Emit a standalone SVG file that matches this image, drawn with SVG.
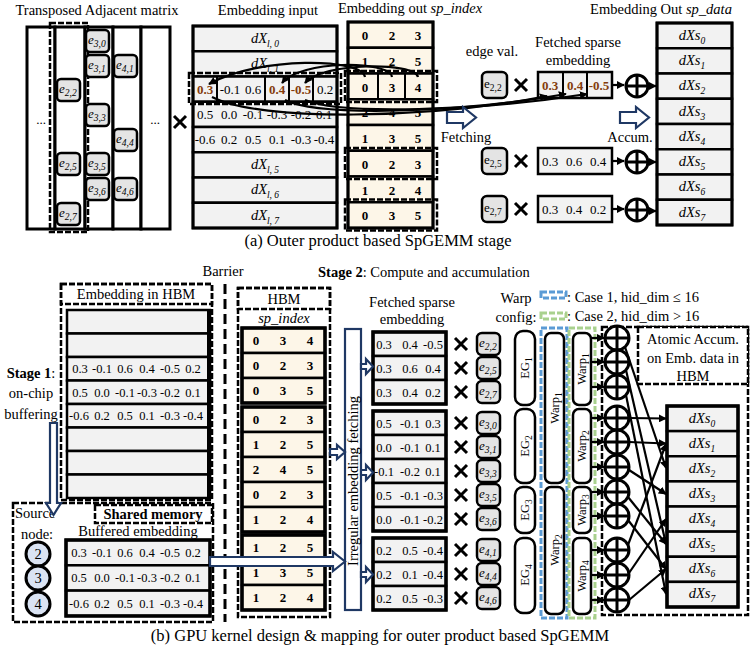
<svg xmlns="http://www.w3.org/2000/svg" width="751" height="652" viewBox="0 0 751 652">
<defs>
<marker id="ah" viewBox="0 0 10 10" refX="9" refY="5" markerWidth="3.6" markerHeight="3.6" orient="auto"><path d="M0,0 L10,5 L0,10 z" fill="#000"/></marker>
<g id="oplus"><circle r="11" fill="#fff" stroke="#000" stroke-width="3"/><path d="M-11,0 H11 M0,-11 V11" stroke="#000" stroke-width="3"/></g>
<g id="oplus2"><circle r="12" fill="#fff" stroke="#000" stroke-width="3"/><path d="M-12,0 H12 M0,-12 V12" stroke="#000" stroke-width="3"/></g>
</defs>
<style>
text{font-family:"Liberation Serif","Times New Roman",serif;fill:#000}
.t{font-size:14.5px}
.n{font-size:13px}
.ns{font-size:12.5px}
.cap{font-size:16.5px}
.b{font-family:"Liberation Sans",Arial,sans-serif;font-weight:bold;font-size:13px}
.br{fill:#843c0c;font-weight:bold}
.i{font-style:italic}
.sub{font-size:9.5px}
.cell{fill:#f2f2f2;stroke:#000;stroke-width:2.5}
.cream{fill:#fdf6e8;stroke:#000;stroke-width:2.5}
.eb{fill:#e4e4e4;stroke:#000;stroke-width:2.5}
.col{fill:#fff;stroke:#000;stroke-width:3}
.dash{fill:none;stroke:#000;stroke-width:2.5;stroke-dasharray:6,2}
.dashw{fill:#fff;stroke:#000;stroke-width:2.5;stroke-dasharray:6,2}
.navy{fill:#fff;stroke:#1f3864;stroke-width:2.2}
.ln{fill:none;stroke:#000;stroke-width:2.2}
.rr{fill:#fff;stroke:#000;stroke-width:2.5}
.x{stroke:#000;stroke-width:3;stroke-linecap:butt}
</style>

<!-- ================= (a) ================= -->
<g id="adjmatrix">
<text class="t" x="97" y="15" text-anchor="middle">Transposed Adjacent matrix</text>
<rect class="col" x="27" y="27" width="28" height="202"/>
<rect class="col" x="55" y="27" width="30" height="202"/>
<rect class="col" x="85" y="27" width="28" height="202"/>
<rect class="col" x="113" y="27" width="28" height="202"/>
<rect class="col" x="141" y="27" width="29" height="202"/>
<rect class="dash" x="50" y="23" width="38" height="209" stroke-dasharray="7,2"/>
<text class="n" x="41" y="124" text-anchor="middle">...</text>
<text class="n" x="155" y="124" text-anchor="middle">...</text>
<g class="es">
<rect class="eb" x="57" y="79" width="23" height="22" rx="4"/><text x="59" y="93" class="n i">e<tspan class="sub" dy="3">2,2</tspan></text>
<rect class="eb" x="57" y="153" width="23" height="22" rx="4"/><text x="59" y="167" class="n i">e<tspan class="sub" dy="3">2,5</tspan></text>
<rect class="eb" x="57" y="203" width="23" height="22" rx="4"/><text x="59" y="217" class="n i">e<tspan class="sub" dy="3">2,7</tspan></text>
<rect class="eb" x="86" y="30" width="23" height="22" rx="4"/><text x="88" y="44" class="n i">e<tspan class="sub" dy="3">3,0</tspan></text>
<rect class="eb" x="86" y="55" width="23" height="22" rx="4"/><text x="88" y="69" class="n i">e<tspan class="sub" dy="3">3,1</tspan></text>
<rect class="eb" x="86" y="104" width="23" height="22" rx="4"/><text x="88" y="118" class="n i">e<tspan class="sub" dy="3">3,3</tspan></text>
<rect class="eb" x="86" y="153" width="23" height="22" rx="4"/><text x="88" y="167" class="n i">e<tspan class="sub" dy="3">3,5</tspan></text>
<rect class="eb" x="86" y="178" width="23" height="22" rx="4"/><text x="88" y="192" class="n i">e<tspan class="sub" dy="3">3,6</tspan></text>
<rect class="eb" x="114" y="55" width="23" height="22" rx="4"/><text x="116" y="69" class="n i">e<tspan class="sub" dy="3">4,1</tspan></text>
<rect class="eb" x="114" y="129" width="23" height="22" rx="4"/><text x="116" y="143" class="n i">e<tspan class="sub" dy="3">4,4</tspan></text>
<rect class="eb" x="114" y="178" width="23" height="22" rx="4"/><text x="116" y="192" class="n i">e<tspan class="sub" dy="3">4,6</tspan></text>
</g>
<path class="x" d="M174,116 L186,128 M186,116 L174,128"/>
</g>

<g id="embinput">
<text class="t" x="268" y="15" text-anchor="middle">Embedding input</text>
<rect class="cell" x="193" y="26" width="144" height="25.25"/>
<rect class="cell" x="193" y="51.25" width="144" height="25.25"/>
<rect class="cell" x="193" y="76.5" width="144" height="25.25"/>
<rect class="cell" x="193" y="101.75" width="144" height="25.25"/>
<rect class="cell" x="193" y="127" width="144" height="25.25"/>
<rect class="cell" x="193" y="152.25" width="144" height="25.25"/>
<rect class="cell" x="193" y="177.5" width="144" height="25.25"/>
<rect class="cell" x="193" y="202.75" width="144" height="25.25"/>
<rect x="193" y="26" width="144" height="202" fill="none" stroke="#000" stroke-width="3"/>
<path d="M217,76.5 V101.75 M265,76.5 V101.75 M289,76.5 V101.75 M313,76.5 V101.75" stroke="#000" stroke-width="2"/>
<rect class="dash" x="189" y="73" width="152" height="31"/>
<text class="t i" x="265" y="43" text-anchor="middle">dX<tspan class="sub" dy="4">l, 0</tspan></text>
<text class="t i" x="265" y="68" text-anchor="middle">dX<tspan class="sub" dy="4">l, 1</tspan></text>
<text class="t i" x="265" y="169" text-anchor="middle">dX<tspan class="sub" dy="4">l, 5</tspan></text>
<text class="t i" x="265" y="194" text-anchor="middle">dX<tspan class="sub" dy="4">l, 6</tspan></text>
<text class="t i" x="265" y="220" text-anchor="middle">dX<tspan class="sub" dy="4">l, 7</tspan></text>
<g class="n" text-anchor="middle">
<text x="205" y="94" class="br">0.3</text><text x="230" y="94">-0.1</text><text x="253" y="94">0.6</text><text x="277" y="94" class="br">0.4</text><text x="301" y="94" class="br">-0.5</text><text x="325" y="94">0.2</text>
<text x="205" y="119">0.5</text><text x="229" y="119">0.0</text><text x="253" y="119">-0.1</text><text x="277" y="119">-0.3</text><text x="301" y="119">-0.2</text><text x="324" y="119">0.1</text>
<text x="205" y="144">-0.6</text><text x="229" y="144">0.2</text><text x="253" y="144">0.5</text><text x="277" y="144">0.1</text><text x="301" y="144">-0.3</text><text x="324" y="144">-0.4</text>
</g>
</g>

<g id="spindex_top">
<text class="t" x="410" y="13" text-anchor="middle">Embedding out <tspan class="i">sp_index</tspan></text>
<rect class="cream" x="348" y="22" width="85" height="25.75"/>
<rect class="cream" x="348" y="47.75" width="85" height="25.75"/>
<rect class="cream" x="348" y="73.5" width="85" height="25.75"/>
<rect class="cream" x="348" y="99.25" width="85" height="25.75"/>
<rect class="cream" x="348" y="125" width="85" height="25.75"/>
<rect class="cream" x="348" y="150.75" width="85" height="25.75"/>
<rect class="cream" x="348" y="176.5" width="85" height="25.75"/>
<rect class="cream" x="348" y="202.25" width="85" height="25.75"/>
<rect x="348" y="22" width="85" height="206" fill="none" stroke="#000" stroke-width="3"/>
<path d="M378,73.5 V99.25 M405,73.5 V99.25" stroke="#000" stroke-width="2"/>
<rect class="dash" x="345" y="71" width="92" height="31"/>
<rect class="dash" x="345" y="148" width="92" height="31"/>
<rect class="dash" x="345" y="199.5" width="92" height="31"/>
<g class="b" text-anchor="middle">
<text x="365" y="40">0</text><text x="392" y="40">2</text><text x="418" y="40">3</text>
<text x="365" y="65.5">1</text><text x="392" y="65.5">2</text><text x="418" y="65.5">5</text>
<text x="365" y="91.5" fill="#843c0c">0</text><text x="392" y="91.5" fill="#843c0c">3</text><text x="418" y="91.5" fill="#843c0c">4</text>
<text x="365" y="117">2</text><text x="392" y="117">4</text><text x="418" y="117">5</text>
<text x="365" y="143">1</text><text x="392" y="143">3</text><text x="418" y="143">5</text>
<text x="365" y="168.5">0</text><text x="392" y="168.5">2</text><text x="418" y="168.5">3</text>
<text x="365" y="194.5">1</text><text x="392" y="194.5">2</text><text x="418" y="194.5">4</text>
<text x="365" y="220">0</text><text x="392" y="220">3</text><text x="418" y="220">5</text>
</g>
</g>

<g id="edges_a">
<text class="t" x="492" y="56" text-anchor="middle">edge val.</text>
<text class="t" x="578" y="47" text-anchor="middle">Fetched sparse</text>
<text class="t" x="578" y="65" text-anchor="middle">embedding</text>
<rect class="eb" x="482" y="72" width="25" height="26" rx="5"/><text x="484" y="88" class="n">e<tspan class="sub" dy="3">2,2</tspan></text>
<rect class="eb" x="482" y="148" width="25" height="26" rx="5"/><text x="484" y="164" class="n">e<tspan class="sub" dy="3">2,5</tspan></text>
<rect class="eb" x="482" y="196" width="25" height="26" rx="5"/><text x="484" y="212" class="n">e<tspan class="sub" dy="3">2,7</tspan></text>
<path class="x" d="M515,79 L527,91 M527,79 L515,91 M515,155 L527,167 M527,155 L515,167 M515,203 L527,215 M527,203 L515,215"/>
<rect class="cell" x="538" y="72" width="74" height="26"/>
<path d="M563,72 V98 M587,72 V98" stroke="#000" stroke-width="2"/>
<text x="550" y="90" class="n br" text-anchor="middle">0.3</text><text x="575" y="90" class="n br" text-anchor="middle">0.4</text><text x="599" y="90" class="n br" text-anchor="middle">-0.5</text>
<rect class="cell" x="538" y="148" width="74" height="26"/>
<g class="n" text-anchor="middle"><text x="550" y="166">0.3</text><text x="574" y="166">0.6</text><text x="598" y="166">0.4</text></g>
<rect class="cell" x="538" y="196" width="74" height="26"/>
<g class="n" text-anchor="middle"><text x="550" y="214">0.3</text><text x="574" y="214">0.4</text><text x="598" y="214">0.2</text></g>
</g>

<g id="spdata">
<text class="t" x="661" y="14" text-anchor="middle">Embedding Out <tspan class="i">sp_data</tspan></text>
<rect class="cell" x="657" y="23" width="75" height="25.25"/>
<rect class="cell" x="657" y="48.25" width="75" height="25.25"/>
<rect class="cell" x="657" y="73.5" width="75" height="25.25"/>
<rect class="cell" x="657" y="98.75" width="75" height="25.25"/>
<rect class="cell" x="657" y="124" width="75" height="25.25"/>
<rect class="cell" x="657" y="149.25" width="75" height="25.25"/>
<rect class="cell" x="657" y="174.5" width="75" height="25.25"/>
<rect class="cell" x="657" y="199.75" width="75" height="25.25"/>
<rect x="657" y="23" width="75" height="202" fill="none" stroke="#000" stroke-width="3"/>
<g class="t i" text-anchor="middle">
<text x="692" y="40">dXs<tspan class="sub" dy="4">0</tspan></text>
<text x="692" y="65">dXs<tspan class="sub" dy="4">1</tspan></text>
<text x="692" y="90">dXs<tspan class="sub" dy="4">2</tspan></text>
<text x="692" y="116">dXs<tspan class="sub" dy="4">3</tspan></text>
<text x="692" y="141">dXs<tspan class="sub" dy="4">4</tspan></text>
<text x="692" y="166">dXs<tspan class="sub" dy="4">5</tspan></text>
<text x="692" y="191">dXs<tspan class="sub" dy="4">6</tspan></text>
<text x="692" y="217">dXs<tspan class="sub" dy="4">7</tspan></text>
</g>
</g>

<g id="connectors_a">
<path class="ln" stroke-width="2.5" d="M365,77 C362,58 260,56 209,84" marker-end="url(#ah)"/>
<path class="ln" stroke-width="2.5" d="M392,77 C389,60 300,60 282,83" marker-end="url(#ah)"/>
<path class="ln" stroke-width="2.5" d="M418,77 C415,62 322,62 305,83" marker-end="url(#ah)"/>
<path class="ln" stroke-width="2.5" d="M212,97 C260,122 430,119 547,96" marker-end="url(#ah)"/>
<path class="ln" stroke-width="2.5" d="M285,100 C320,117 460,113 566,94" marker-end="url(#ah)"/>
<path class="ln" stroke-width="2.5" d="M305,100 C340,115 480,111 587,94" marker-end="url(#ah)"/>
<path class="ln" d="M612,85 H624" marker-end="url(#ah)"/>
<path class="ln" d="M648,86 H656" marker-end="url(#ah)"/>
<path class="ln" d="M612,161 H624" marker-end="url(#ah)"/>
<path class="ln" d="M648,162 H656" marker-end="url(#ah)"/>
<path class="ln" d="M612,209 H624" marker-end="url(#ah)"/>
<path class="ln" d="M648,211 H656" marker-end="url(#ah)"/>
<use href="#oplus" x="637" y="86"/>
<use href="#oplus" x="637" y="162"/>
<use href="#oplus" x="637" y="210"/>
<path class="navy" d="M447,112 H463 V107 L476,117.5 L463,128 V123 H447 Z"/>
<text class="t" x="466" y="142" text-anchor="middle">Fetching</text>
<path class="navy" d="M620,112 H636 V107 L649,117.5 L636,128 V123 H620 Z"/>
<text class="t" x="630" y="142" text-anchor="middle">Accum.</text>
</g>

<text class="cap" x="378" y="246" text-anchor="middle">(a) Outer product based SpGEMM stage</text>

<!-- ================= (b) ================= -->
<g id="barrier">
<text class="t" x="223" y="276" text-anchor="middle">Barrier</text>
<path d="M225,284 V622" stroke="#000" stroke-width="3" stroke-dasharray="10,5"/>
<text class="t" x="318" y="277"><tspan font-weight="bold">Stage 2</tspan>: Compute and accumulation</text>
</g>

<g id="stage1">
<text class="t" x="31" y="378" text-anchor="middle"><tspan font-weight="bold">Stage 1</tspan>:</text>
<text class="t" x="31" y="398" text-anchor="middle">on-chip</text>
<text class="t" x="31" y="419" text-anchor="middle">buffering</text>
</g>

<g id="hbm_emb">
<rect class="dash" x="61" y="284" width="151" height="216"/>
<rect class="dash" x="61" y="284" width="151" height="20"/>
<text class="t" x="136" y="299" text-anchor="middle">Embedding in HBM</text>
<rect class="cell" x="67" y="310" width="143" height="23.5"/>
<rect class="cell" x="67" y="333.5" width="143" height="23.5"/>
<rect class="cell" x="67" y="357" width="143" height="23.5"/>
<rect class="cell" x="67" y="380.5" width="143" height="23.5"/>
<rect class="cell" x="67" y="404" width="143" height="23.5"/>
<rect class="cell" x="67" y="427.5" width="143" height="23.5"/>
<rect class="cell" x="67" y="451" width="143" height="23.5"/>
<rect class="cell" x="67" y="474.5" width="143" height="23.5"/>
<path d="M209,310 V498" stroke="#000" stroke-width="4"/>
<g class="ns" text-anchor="middle">
<text x="80" y="373">0.3</text><text x="102" y="373">-0.1</text><text x="125" y="373">0.6</text><text x="147" y="373">0.4</text><text x="170" y="373">-0.5</text><text x="193" y="373">0.2</text>
<text x="80" y="397">0.5</text><text x="102" y="397">0.0</text><text x="125" y="397">-0.1</text><text x="147" y="397">-0.3</text><text x="170" y="397">-0.2</text><text x="193" y="397">0.1</text>
<text x="79" y="420">-0.6</text><text x="102" y="420">0.2</text><text x="125" y="420">0.5</text><text x="147" y="420">0.1</text><text x="170" y="420">-0.3</text><text x="193" y="420">-0.4</text>
</g>
</g>

<g id="shared">
<rect class="dash" x="13" y="503" width="200" height="119"/>
<rect class="dashw" x="95" y="505" width="117" height="18"/>
<text class="t" x="153" y="519" text-anchor="middle" font-weight="bold">Shared memory</text>
<text class="t" x="15" y="518">Source</text>
<text class="t" x="37" y="539" text-anchor="middle">node:</text>
<text class="t" x="138" y="536" text-anchor="middle">Buffered embedding</text>
<circle cx="38" cy="554" r="12" fill="#dae3f3" stroke="#000" stroke-width="3"/>
<circle cx="38" cy="578" r="12" fill="#dae3f3" stroke="#000" stroke-width="3"/>
<circle cx="38" cy="604" r="12" fill="#dae3f3" stroke="#000" stroke-width="3"/>
<text class="t" x="38" y="559" text-anchor="middle">2</text>
<text class="t" x="38" y="583" text-anchor="middle">3</text>
<text class="t" x="38" y="609" text-anchor="middle">4</text>
<rect class="cell" x="66" y="540" width="144" height="25.3"/>
<rect class="cell" x="66" y="565.3" width="144" height="25.3"/>
<rect class="cell" x="66" y="590.6" width="144" height="25.3"/>
<rect x="66" y="540" width="144" height="76" fill="none" stroke="#000" stroke-width="3.5"/>
<g class="ns" text-anchor="middle">
<text x="79" y="557">0.3</text><text x="102" y="557">-0.1</text><text x="125" y="557">0.6</text><text x="147" y="557">0.4</text><text x="170" y="557">-0.5</text><text x="193" y="557">0.2</text>
<text x="79" y="582">0.5</text><text x="102" y="582">0.0</text><text x="125" y="582">-0.1</text><text x="147" y="582">-0.3</text><text x="170" y="582">-0.2</text><text x="193" y="582">0.1</text>
<text x="79" y="608">-0.6</text><text x="102" y="608">0.2</text><text x="125" y="608">0.5</text><text x="147" y="608">0.1</text><text x="170" y="608">-0.3</text><text x="193" y="608">-0.4</text>
</g>
</g>

<g id="hbm_spindex">
<rect class="dash" x="238" y="288" width="92" height="329"/>
<rect class="dash" x="238" y="288" width="92" height="21"/>
<text class="t" x="284" y="304" text-anchor="middle">HBM</text>
<text class="t i" x="284" y="323" text-anchor="middle">sp_index</text>
<rect class="cream" x="242" y="328" width="83" height="25"/>
<rect class="cream" x="242" y="353" width="83" height="25"/>
<rect class="cream" x="242" y="378" width="83" height="25"/>
<rect x="242" y="328" width="83" height="75" fill="none" stroke="#000" stroke-width="3.5"/>
<rect class="cream" x="242" y="407" width="83" height="25"/>
<rect class="cream" x="242" y="432" width="83" height="25"/>
<rect class="cream" x="242" y="457" width="83" height="25"/>
<rect class="cream" x="242" y="482" width="83" height="25"/>
<rect class="cream" x="242" y="507" width="83" height="25"/>
<rect x="242" y="407" width="83" height="125" fill="none" stroke="#000" stroke-width="3.5"/>
<rect class="cream" x="242" y="535" width="83" height="25"/>
<rect class="cream" x="242" y="560" width="83" height="25"/>
<rect class="cream" x="242" y="585" width="83" height="25"/>
<rect x="242" y="535" width="83" height="75" fill="none" stroke="#000" stroke-width="3.5"/>
<g class="b" text-anchor="middle">
<text x="256" y="345">0</text><text x="283" y="345">3</text><text x="310" y="345">4</text>
<text x="256" y="370">0</text><text x="283" y="370">2</text><text x="310" y="370">3</text>
<text x="256" y="395">0</text><text x="283" y="395">3</text><text x="310" y="395">5</text>
<text x="256" y="424">0</text><text x="283" y="424">2</text><text x="310" y="424">3</text>
<text x="256" y="449">1</text><text x="283" y="449">2</text><text x="310" y="449">5</text>
<text x="256" y="474">2</text><text x="283" y="474">4</text><text x="310" y="474">5</text>
<text x="256" y="499">0</text><text x="283" y="499">2</text><text x="310" y="499">3</text>
<text x="256" y="524">1</text><text x="283" y="524">2</text><text x="310" y="524">4</text>
<text x="256" y="552">1</text><text x="283" y="552">2</text><text x="310" y="552">5</text>
<text x="256" y="577">1</text><text x="283" y="577">3</text><text x="310" y="577">5</text>
<text x="256" y="602">1</text><text x="283" y="602">2</text><text x="310" y="602">4</text>
</g>
</g>

<g id="fetchbar">
<rect class="navy" x="345" y="329" width="16" height="281" stroke-width="2.5"/>
<text class="t" transform="translate(358,481) rotate(-90)" text-anchor="middle">Irregular embedding fetching</text>
</g>

<g id="fetched_b">
<text class="t" x="412" y="307" text-anchor="middle">Fetched sparse</text>
<text class="t" x="412" y="324" text-anchor="middle">embedding</text>
<rect class="cell" x="373" y="332" width="73" height="24"/>
<rect class="cell" x="373" y="356" width="73" height="24"/>
<rect class="cell" x="373" y="380" width="73" height="24"/>
<rect x="373" y="332" width="73" height="72" fill="none" stroke="#000" stroke-width="3.5"/>
<rect class="cell" x="373" y="411" width="73" height="24"/>
<rect class="cell" x="373" y="435" width="73" height="24"/>
<rect class="cell" x="373" y="459" width="73" height="24"/>
<rect class="cell" x="373" y="483" width="73" height="24"/>
<rect class="cell" x="373" y="507" width="73" height="24"/>
<rect x="373" y="411" width="73" height="120" fill="none" stroke="#000" stroke-width="3.5"/>
<rect class="cell" x="373" y="538" width="73" height="24"/>
<rect class="cell" x="373" y="562" width="73" height="24"/>
<rect class="cell" x="373" y="586" width="73" height="24"/>
<rect x="373" y="538" width="73" height="72" fill="none" stroke="#000" stroke-width="3.5"/>
<g class="ns" text-anchor="middle">
<text x="384" y="349">0.3</text><text x="410" y="349">0.4</text><text x="433" y="349">-0.5</text>
<text x="384" y="373">0.3</text><text x="410" y="373">0.6</text><text x="433" y="373">0.4</text>
<text x="384" y="397">0.3</text><text x="410" y="397">0.4</text><text x="433" y="397">0.2</text>
<text x="384" y="428">0.5</text><text x="410" y="428">-0.1</text><text x="433" y="428">0.3</text>
<text x="384" y="452">0.0</text><text x="410" y="452">-0.1</text><text x="433" y="452">0.1</text>
<text x="384" y="476">-0.1</text><text x="410" y="476">-0.2</text><text x="433" y="476">0.1</text>
<text x="384" y="500">0.5</text><text x="410" y="500">-0.1</text><text x="433" y="500">-0.3</text>
<text x="384" y="524">0.0</text><text x="410" y="524">-0.1</text><text x="433" y="524">-0.2</text>
<text x="384" y="555">0.2</text><text x="410" y="555">0.5</text><text x="433" y="555">-0.4</text>
<text x="384" y="579">0.2</text><text x="410" y="579">0.1</text><text x="433" y="579">-0.4</text>
<text x="384" y="603">0.2</text><text x="410" y="603">0.5</text><text x="433" y="603">-0.3</text>
</g>
<path class="x" d="M455,338 L467,350 M467,338 L455,350 M455,362 L467,374 M467,362 L455,374 M455,386 L467,398 M467,386 L455,398 M455,417 L467,429 M467,417 L455,429 M455,441 L467,453 M467,441 L455,453 M455,465 L467,477 M467,465 L455,477 M455,489 L467,501 M467,489 L455,501 M455,513 L467,525 M467,513 L455,525 M455,544 L467,556 M467,544 L455,556 M455,568 L467,580 M467,568 L455,580 M455,592 L467,604 M467,592 L455,604"/>
</g>

<g id="edgevals_b">
<rect class="eb" x="477" y="333" width="23" height="22" rx="5"/><text x="479" y="347" class="n i">e<tspan class="sub" dy="3">2,2</tspan></text>
<rect class="eb" x="477" y="357" width="23" height="22" rx="5"/><text x="479" y="371" class="n i">e<tspan class="sub" dy="3">2,5</tspan></text>
<rect class="eb" x="477" y="381" width="23" height="22" rx="5"/><text x="479" y="395" class="n i">e<tspan class="sub" dy="3">2,7</tspan></text>
<rect class="eb" x="477" y="412" width="23" height="22" rx="5"/><text x="479" y="426" class="n i">e<tspan class="sub" dy="3">3,0</tspan></text>
<rect class="eb" x="477" y="436" width="23" height="22" rx="5"/><text x="479" y="450" class="n i">e<tspan class="sub" dy="3">3,1</tspan></text>
<rect class="eb" x="477" y="460" width="23" height="22" rx="5"/><text x="479" y="474" class="n i">e<tspan class="sub" dy="3">3,3</tspan></text>
<rect class="eb" x="477" y="484" width="23" height="22" rx="5"/><text x="479" y="498" class="n i">e<tspan class="sub" dy="3">3,5</tspan></text>
<rect class="eb" x="477" y="508" width="23" height="22" rx="5"/><text x="479" y="522" class="n i">e<tspan class="sub" dy="3">3,6</tspan></text>
<rect class="eb" x="477" y="539" width="23" height="22" rx="5"/><text x="479" y="553" class="n i">e<tspan class="sub" dy="3">4,1</tspan></text>
<rect class="eb" x="477" y="563" width="23" height="22" rx="5"/><text x="479" y="577" class="n i">e<tspan class="sub" dy="3">4,4</tspan></text>
<rect class="eb" x="477" y="587" width="23" height="22" rx="5"/><text x="479" y="601" class="n i">e<tspan class="sub" dy="3">4,6</tspan></text>
</g>

<g id="eg">
<rect class="rr" x="515" y="331" width="20" height="74" rx="8"/>
<rect class="rr" x="515" y="409" width="20" height="74" rx="8"/>
<rect class="rr" x="515" y="487" width="20" height="46" rx="8"/>
<rect class="rr" x="515" y="538" width="20" height="75" rx="8"/>
<text class="ns" transform="translate(529,368) rotate(-90)" text-anchor="middle">EG<tspan class="sub" dy="3">1</tspan></text>
<text class="ns" transform="translate(529,446) rotate(-90)" text-anchor="middle">EG<tspan class="sub" dy="3">2</tspan></text>
<text class="ns" transform="translate(529,510) rotate(-90)" text-anchor="middle">EG<tspan class="sub" dy="3">3</tspan></text>
<text class="ns" transform="translate(529,575) rotate(-90)" text-anchor="middle">EG<tspan class="sub" dy="3">4</tspan></text>
</g>

<g id="warps">
<text class="t" x="516" y="303" text-anchor="middle">Warp</text>
<text class="t" x="516" y="322" text-anchor="middle">config:</text>
<rect x="541" y="292" width="25" height="6" fill="none" stroke="#5b9bd5" stroke-width="3" stroke-dasharray="6,2"/>
<rect x="541" y="313" width="25" height="6" fill="none" stroke="#a9d18e" stroke-width="3" stroke-dasharray="6,2"/>
<text class="t" x="567" y="302">: Case 1, hid_dim ≤ 16</text>
<text class="t" x="567" y="321">: Case 2, hid_dim &gt; 16</text>
<rect x="541" y="328" width="26" height="290" fill="none" stroke="#5b9bd5" stroke-width="3" stroke-dasharray="6,2"/>
<rect class="rr" x="545" y="333" width="19" height="150" rx="6"/>
<rect class="rr" x="545" y="487" width="19" height="127" rx="6"/>
<text class="ns" transform="translate(559,408) rotate(-90)" text-anchor="middle">Warp<tspan class="sub" dy="3">1</tspan></text>
<text class="ns" transform="translate(559,550) rotate(-90)" text-anchor="middle">Warp<tspan class="sub" dy="3">2</tspan></text>
<rect x="569" y="328" width="26" height="290" fill="none" stroke="#a9d18e" stroke-width="3" stroke-dasharray="6,2"/>
<rect class="rr" x="573" y="333" width="18" height="72" rx="6"/>
<rect class="rr" x="573" y="409" width="18" height="74" rx="6"/>
<rect class="rr" x="573" y="487" width="18" height="46" rx="6"/>
<rect class="rr" x="573" y="538" width="18" height="76" rx="6"/>
<text class="ns" transform="translate(586,369) rotate(-90)" text-anchor="middle">Warp<tspan class="sub" dy="3">1</tspan></text>
<text class="ns" transform="translate(586,446) rotate(-90)" text-anchor="middle">Warp<tspan class="sub" dy="3">2</tspan></text>
<text class="ns" transform="translate(586,510) rotate(-90)" text-anchor="middle">Warp<tspan class="sub" dy="3">3</tspan></text>
<text class="ns" transform="translate(586,576) rotate(-90)" text-anchor="middle">Warp<tspan class="sub" dy="3">4</tspan></text>
</g>

<g id="atomic">
<rect class="dash" x="602" y="327" width="146" height="288" stroke-width="3"/>
<rect class="dashw" x="638" y="327" width="110" height="57" stroke-width="3"/>
<text class="t" x="693" y="344" text-anchor="middle">Atomic Accum.</text>
<text class="t" x="693" y="363" text-anchor="middle">on Emb. data in</text>
<text class="t" x="693" y="381" text-anchor="middle">HBM</text>
</g>

<g id="spdata_b">
<rect class="cell" x="667" y="406" width="71" height="25.125"/>
<rect class="cell" x="667" y="431.125" width="71" height="25.125"/>
<rect class="cell" x="667" y="456.25" width="71" height="25.125"/>
<rect class="cell" x="667" y="481.375" width="71" height="25.125"/>
<rect class="cell" x="667" y="506.5" width="71" height="25.125"/>
<rect class="cell" x="667" y="531.625" width="71" height="25.125"/>
<rect class="cell" x="667" y="556.75" width="71" height="25.125"/>
<rect class="cell" x="667" y="581.875" width="71" height="25.125"/>
<rect x="667" y="406" width="71" height="201" fill="none" stroke="#000" stroke-width="3.5"/>
<g class="t i" text-anchor="middle">
<text x="702" y="423">dXs<tspan class="sub" dy="4">0</tspan></text>
<text x="702" y="448">dXs<tspan class="sub" dy="4">1</tspan></text>
<text x="702" y="473">dXs<tspan class="sub" dy="4">2</tspan></text>
<text x="702" y="498">dXs<tspan class="sub" dy="4">3</tspan></text>
<text x="702" y="523">dXs<tspan class="sub" dy="4">4</tspan></text>
<text x="702" y="548">dXs<tspan class="sub" dy="4">5</tspan></text>
<text x="702" y="573">dXs<tspan class="sub" dy="4">6</tspan></text>
<text x="702" y="598">dXs<tspan class="sub" dy="4">7</tspan></text>
</g>
</g>

<g id="connectors_b">
<path class="navy" d="M50,423 H57 V503 H61 L53.5,515 L46,503 H50 Z"/>
<path class="navy" d="M210,557 H333 V552 L345,561.5 L333,571 V566 H210 Z"/>
<path class="navy" d="M330,449 H337 V445 L345,452 L337,459 V455 H330 Z"/>
<path class="navy" d="M361,364 H366 V359 L373,366.5 L366,374 V369 H361 Z"/>
<path class="navy" d="M361,470 H366 V465 L373,472.5 L366,480 V475 H361 Z"/>
<path class="navy" d="M361,572 H366 V567 L373,574.5 L366,582 V577 H361 Z"/>
<g class="ln">
<path d="M591,338 H604" marker-end="url(#ah)"/>
<path d="M591,362 H604" marker-end="url(#ah)"/>
<path d="M591,387 H604" marker-end="url(#ah)"/>
<path d="M591,418 H604" marker-end="url(#ah)"/>
<path d="M591,442 H604" marker-end="url(#ah)"/>
<path d="M591,467 H604" marker-end="url(#ah)"/>
<path d="M591,492 H604" marker-end="url(#ah)"/>
<path d="M591,516 H604" marker-end="url(#ah)"/>
<path d="M591,550 H604" marker-end="url(#ah)"/>
<path d="M591,575 H604" marker-end="url(#ah)"/>
<path d="M591,600 H604" marker-end="url(#ah)"/>
<path d="M625,347 L666,468" marker-end="url(#ah)"/>
<path d="M626,370 L666,544" marker-end="url(#ah)"/>
<path d="M626,395 L666,594" marker-end="url(#ah)"/>
<path d="M629,418 L666,418.5" marker-end="url(#ah)"/>
<path d="M629,442 L666,443.5" marker-end="url(#ah)"/>
<path d="M629,470 L666,494" marker-end="url(#ah)"/>
<path d="M628,497 L666,544" marker-end="url(#ah)"/>
<path d="M628,520 L666,569" marker-end="url(#ah)"/>
<path d="M628,545 L666,444" marker-end="url(#ah)"/>
<path d="M629,573 L666,519" marker-end="url(#ah)"/>
<path d="M629,600 L666,569" marker-end="url(#ah)"/>
</g>
<use href="#oplus2" x="617" y="338"/>
<use href="#oplus2" x="617" y="362"/>
<use href="#oplus2" x="617" y="387"/>
<use href="#oplus2" x="617" y="418"/>
<use href="#oplus2" x="617" y="442"/>
<use href="#oplus2" x="617" y="467"/>
<use href="#oplus2" x="617" y="492"/>
<use href="#oplus2" x="617" y="516"/>
<use href="#oplus2" x="617" y="550"/>
<use href="#oplus2" x="617" y="575"/>
<use href="#oplus2" x="617" y="600"/>
</g>

<text class="cap" x="380" y="641" text-anchor="middle" font-size="17">(b) GPU kernel design &amp; mapping for outer product based SpGEMM</text>
</svg>
